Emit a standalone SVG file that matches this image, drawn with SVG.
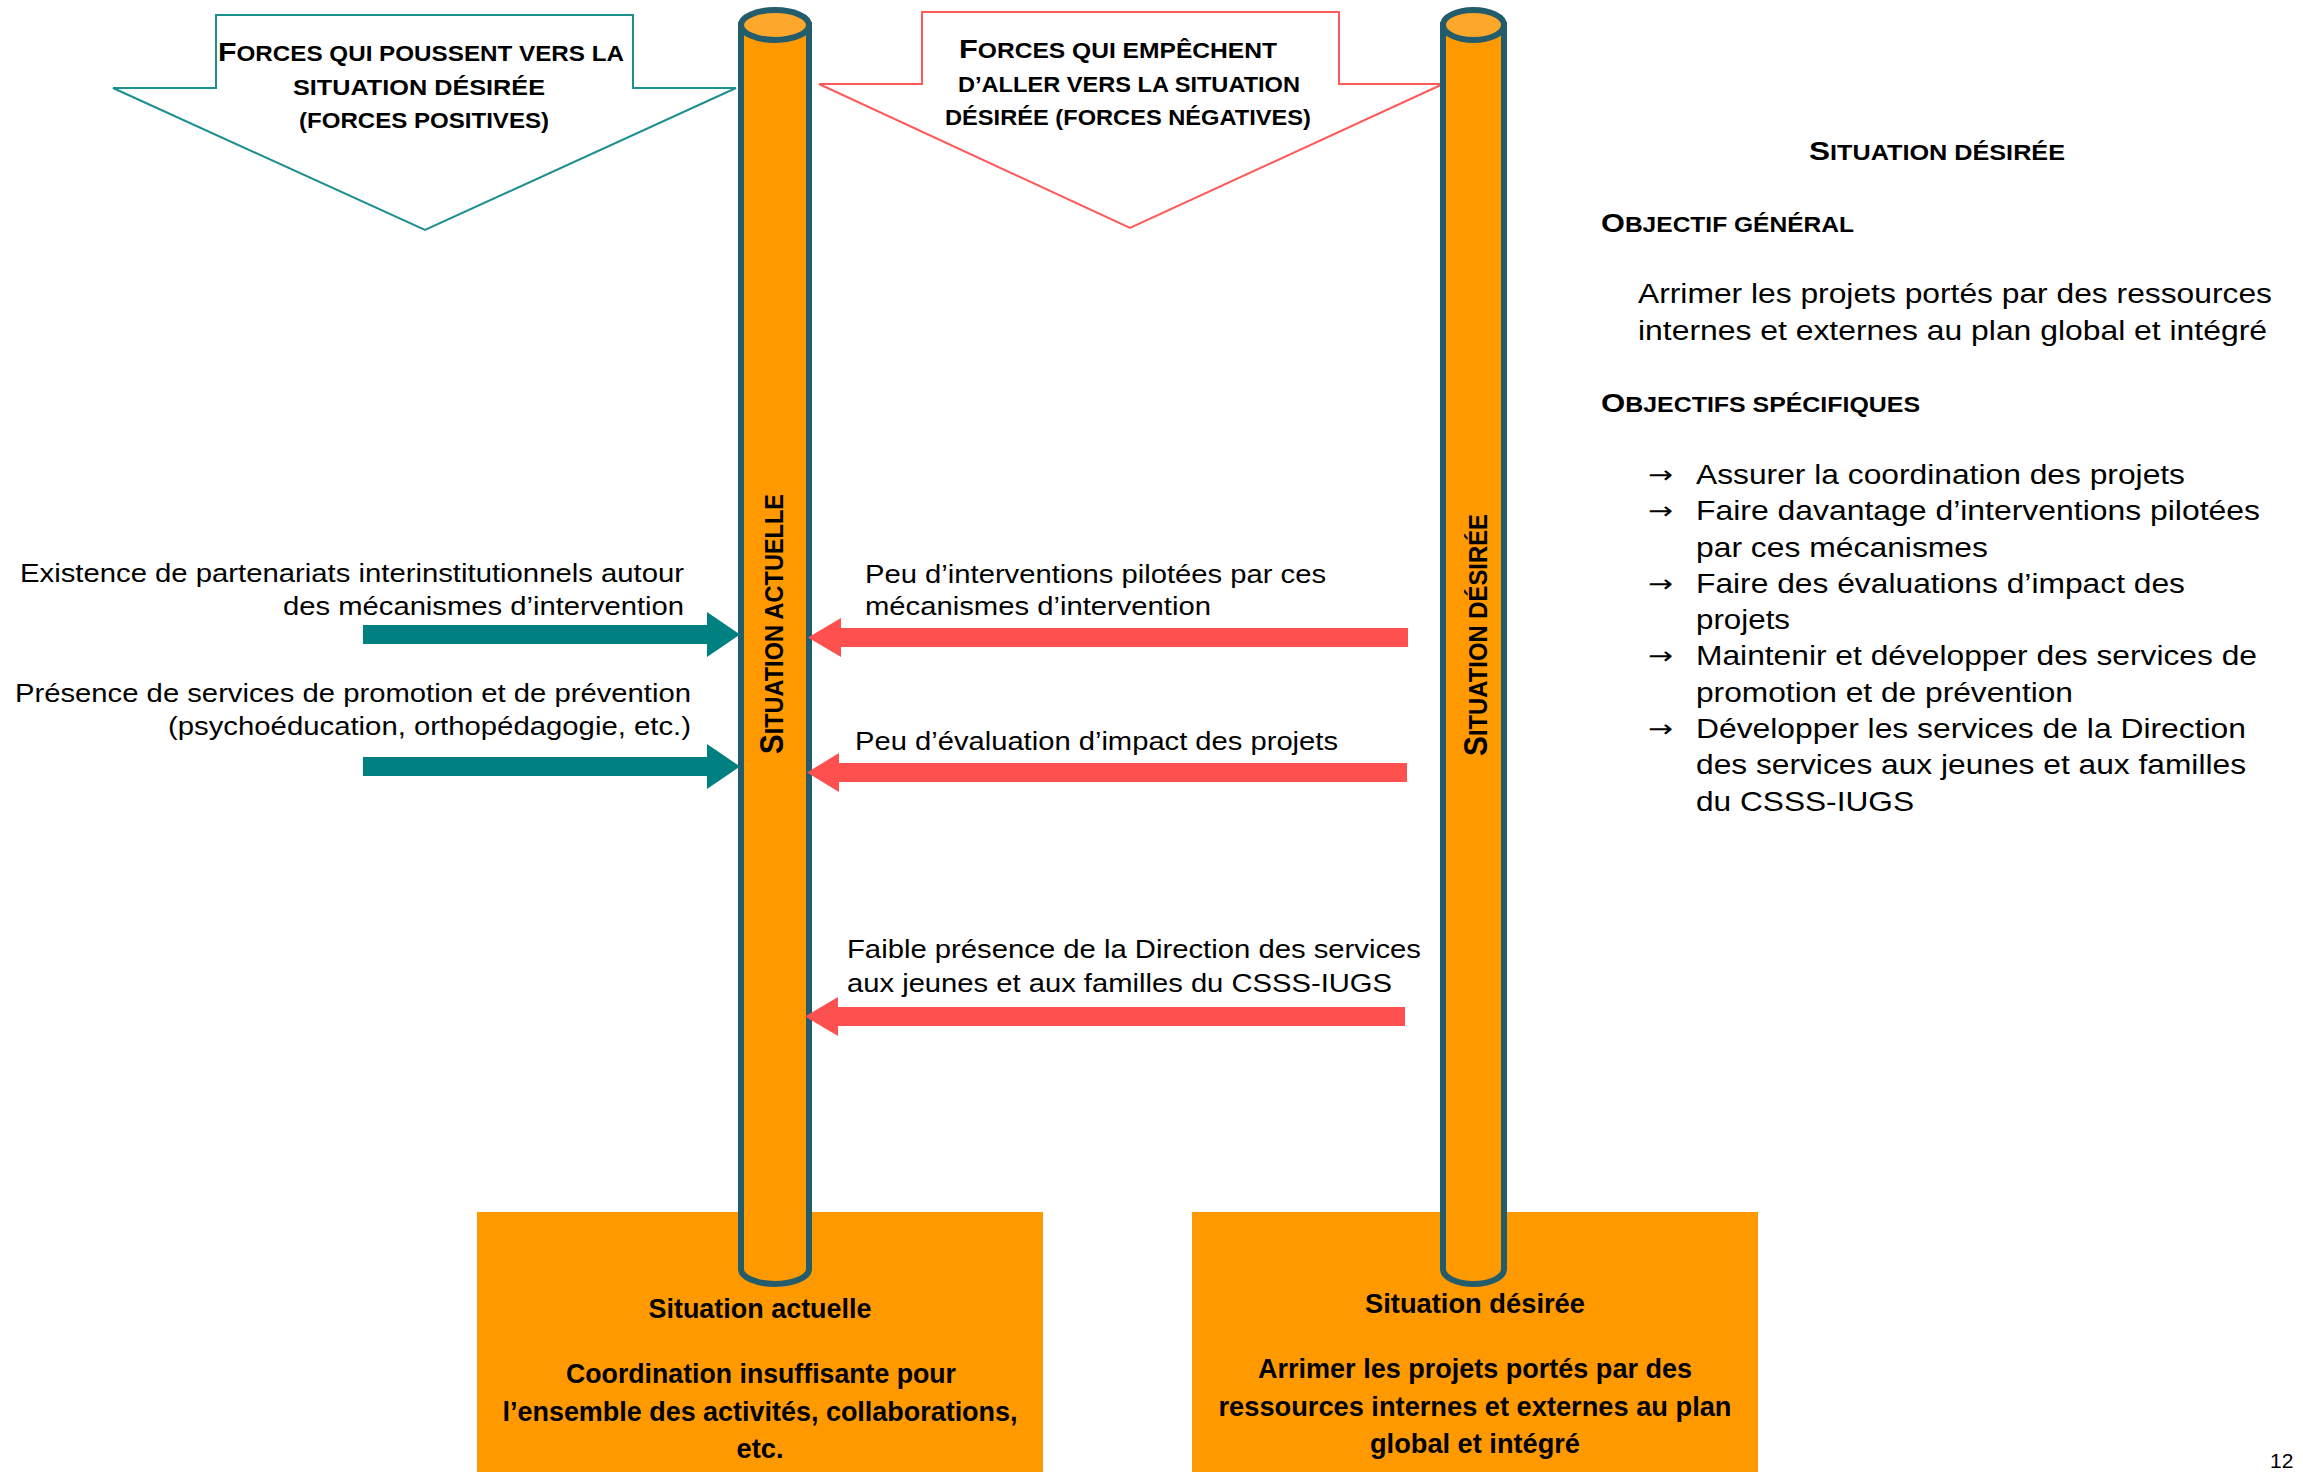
<svg xmlns="http://www.w3.org/2000/svg" width="2303" height="1472" viewBox="0 0 2303 1472">
<style>
.t{font-family:"Liberation Sans",Arial,Helvetica,sans-serif;fill:#000}
.n{font-size:25.5px}
.p{font-size:27.5px}
.h{font-size:26.5px;font-weight:bold}
.hs{font-size:21.2px}
.b{font-size:27px;font-weight:bold}
.v{font-size:28px;font-weight:bold}
.vs{font-size:22.4px}
.arr{font-family:"DejaVu Sans","Noto Sans",sans-serif;font-size:24px;fill:#000}
.cyl{fill:#FF9900;stroke:#235C6B;stroke-width:6}
.cyltop{fill:#FDA72B;stroke:#235C6B;stroke-width:6}
.box{fill:#FF9900}
.pos{fill:#008080}
.neg{fill:#FF5050}
</style>
<rect width="2303" height="1472" fill="#fff"/>

<g id="header-positive">
<polygon points="216,15 633,15 633,88 736,88 425,230 113,88 216,88" fill="#fff" stroke="#1E8F8F" stroke-width="2"/>
<text class="t h" x="421" y="61" text-anchor="middle" textLength="406" lengthAdjust="spacingAndGlyphs">F<tspan class="hs">ORCES QUI POUSSENT VERS LA</tspan></text>
<text class="t h hs" x="419" y="95" text-anchor="middle" textLength="252" lengthAdjust="spacingAndGlyphs">SITUATION DÉSIRÉE</text>
<text class="t h hs" x="424" y="128" text-anchor="middle" textLength="250" lengthAdjust="spacingAndGlyphs">(FORCES POSITIVES)</text>
</g>

<g id="header-negative">
<polygon points="922,12 1339,12 1339,84 1443,84 1130,228 819,84 922,84" fill="#fff" stroke="#FF5A5A" stroke-width="2"/>
<text class="t h" x="1118" y="58" text-anchor="middle" textLength="318" lengthAdjust="spacingAndGlyphs">F<tspan class="hs">ORCES QUI EMPÊCHENT</tspan></text>
<text class="t h hs" x="1129" y="92" text-anchor="middle" textLength="342" lengthAdjust="spacingAndGlyphs">D’ALLER VERS LA SITUATION</text>
<text class="t h hs" x="1128" y="125" text-anchor="middle" textLength="366" lengthAdjust="spacingAndGlyphs">DÉSIRÉE (FORCES NÉGATIVES)</text>
</g>

<g id="box-actuelle">
<rect class="box" x="477" y="1212" width="566" height="260"/>
<text class="t b" x="760" y="1318" text-anchor="middle" textLength="223" lengthAdjust="spacingAndGlyphs">Situation actuelle</text>
<text class="t b" x="761" y="1383" text-anchor="middle" textLength="390" lengthAdjust="spacingAndGlyphs">Coordination insuffisante pour</text>
<text class="t b" x="760" y="1421" text-anchor="middle" textLength="515" lengthAdjust="spacingAndGlyphs">l’ensemble des activités, collaborations,</text>
<text class="t b" x="760" y="1458" text-anchor="middle" textLength="47" lengthAdjust="spacingAndGlyphs">etc.</text>
</g>

<g id="box-desiree">
<rect class="box" x="1192" y="1212" width="566" height="260"/>
<text class="t b" x="1475" y="1313" text-anchor="middle" textLength="220" lengthAdjust="spacingAndGlyphs">Situation désirée</text>
<text class="t b" x="1475" y="1378" text-anchor="middle" textLength="434" lengthAdjust="spacingAndGlyphs">Arrimer les projets portés par des</text>
<text class="t b" x="1475" y="1416" text-anchor="middle" textLength="513" lengthAdjust="spacingAndGlyphs">ressources internes et externes au plan</text>
<text class="t b" x="1475" y="1453" text-anchor="middle" textLength="210" lengthAdjust="spacingAndGlyphs">global et intégré</text>
</g>

<g id="cylinder-actuelle">
<path class="cyl" d="M741,25 V1269 A34,15 0 0 0 809,1269 V25 Z"/>
<ellipse class="cyltop" cx="775" cy="25" rx="34" ry="15"/>
<text class="t v" transform="translate(783,624) scale(1.17,1) rotate(-90)" x="0" y="0" text-anchor="middle" textLength="260" lengthAdjust="spacingAndGlyphs">S<tspan class="vs">ITUATION ACTUELLE</tspan></text>
</g>

<g id="cylinder-desiree">
<path class="cyl" d="M1443,25 V1269 A30.5,15 0 0 0 1504,1269 V25 Z"/>
<ellipse class="cyltop" cx="1473.5" cy="25" rx="30.5" ry="15"/>
<text class="t v" transform="translate(1487,635) scale(1.17,1) rotate(-90)" x="0" y="0" text-anchor="middle" textLength="242" lengthAdjust="spacingAndGlyphs">S<tspan class="vs">ITUATION DÉSIRÉE</tspan></text>
</g>

<g id="forces-positives">
<text class="t n" x="20" y="582" textLength="664" lengthAdjust="spacingAndGlyphs">Existence de partenariats interinstitutionnels autour</text>
<text class="t n" x="283" y="615" textLength="401" lengthAdjust="spacingAndGlyphs">des mécanismes d’intervention</text>
<text class="t n" x="15" y="702" textLength="676" lengthAdjust="spacingAndGlyphs">Présence de services de promotion et de prévention</text>
<text class="t n" x="168" y="735" textLength="523" lengthAdjust="spacingAndGlyphs">(psychoéducation, orthopédagogie, etc.)</text>
</g>

<g id="forces-negatives">
<text class="t n" x="865" y="583" textLength="461" lengthAdjust="spacingAndGlyphs">Peu d’interventions pilotées par ces</text>
<text class="t n" x="865" y="615" textLength="346" lengthAdjust="spacingAndGlyphs">mécanismes d’intervention</text>
<text class="t n" x="855" y="750" textLength="483" lengthAdjust="spacingAndGlyphs">Peu d’évaluation d’impact des projets</text>
<text class="t n" x="847" y="958" textLength="574" lengthAdjust="spacingAndGlyphs">Faible présence de la Direction des services</text>
<text class="t n" x="847" y="992" textLength="545" lengthAdjust="spacingAndGlyphs">aux jeunes et aux familles du CSSS-IUGS</text>
</g>

<g id="connectors">
<polygon class="pos" points="363,625 707,625 707,612 740,634.5 707,657 707,644 363,644"/>
<polygon class="pos" points="363,757 707,757 707,744 740,766.5 707,789 707,776 363,776"/>
<polygon class="neg" points="1408,628 841,628 841,618 808,637.5 841,657 841,647 1408,647"/>
<polygon class="neg" points="1407,763 839,763 839,753 807,772.5 839,792 839,782 1407,782"/>
<polygon class="neg" points="1405,1007 838,1007 838,997 805,1016.5 838,1036 838,1026 1405,1026"/>
</g>

<g id="panel-situation-desiree">
<text class="t h" x="1809" y="160" textLength="256" lengthAdjust="spacingAndGlyphs">S<tspan class="hs">ITUATION DÉSIRÉE</tspan></text>
<text class="t h" x="1601" y="232" textLength="253" lengthAdjust="spacingAndGlyphs">O<tspan class="hs">BJECTIF GÉNÉRAL</tspan></text>
<text class="t p" x="1638" y="303" textLength="634" lengthAdjust="spacingAndGlyphs">Arrimer les projets portés par des ressources</text>
<text class="t p" x="1638" y="340" textLength="629" lengthAdjust="spacingAndGlyphs">internes et externes au plan global et intégré</text>
<text class="t h" x="1601" y="412" textLength="319" lengthAdjust="spacingAndGlyphs">O<tspan class="hs">BJECTIFS SPÉCIFIQUES</tspan></text>
<text class="arr" x="1648" y="483" textLength="25" lengthAdjust="spacingAndGlyphs">→</text>
<text class="arr" x="1648" y="519" textLength="25" lengthAdjust="spacingAndGlyphs">→</text>
<text class="arr" x="1648" y="592" textLength="25" lengthAdjust="spacingAndGlyphs">→</text>
<text class="arr" x="1648" y="664" textLength="25" lengthAdjust="spacingAndGlyphs">→</text>
<text class="arr" x="1648" y="737" textLength="25" lengthAdjust="spacingAndGlyphs">→</text>
<text class="t p" x="1696" y="484" textLength="489" lengthAdjust="spacingAndGlyphs">Assurer la coordination des projets</text>
<text class="t p" x="1696" y="520" textLength="564" lengthAdjust="spacingAndGlyphs">Faire davantage d’interventions pilotées</text>
<text class="t p" x="1696" y="557" textLength="292" lengthAdjust="spacingAndGlyphs">par ces mécanismes</text>
<text class="t p" x="1696" y="593" textLength="489" lengthAdjust="spacingAndGlyphs">Faire des évaluations d’impact des</text>
<text class="t p" x="1696" y="629" textLength="94" lengthAdjust="spacingAndGlyphs">projets</text>
<text class="t p" x="1696" y="665" textLength="561" lengthAdjust="spacingAndGlyphs">Maintenir et développer des services de</text>
<text class="t p" x="1696" y="702" textLength="377" lengthAdjust="spacingAndGlyphs">promotion et de prévention</text>
<text class="t p" x="1696" y="738" textLength="550" lengthAdjust="spacingAndGlyphs">Développer les services de la Direction</text>
<text class="t p" x="1696" y="774" textLength="550" lengthAdjust="spacingAndGlyphs">des services aux jeunes et aux familles</text>
<text class="t p" x="1696" y="811" textLength="218" lengthAdjust="spacingAndGlyphs">du CSSS-IUGS</text>
</g>

<g id="page-number">
<text class="t" x="2270" y="1468" font-size="21" fill="#222">12</text>
</g>
</svg>
